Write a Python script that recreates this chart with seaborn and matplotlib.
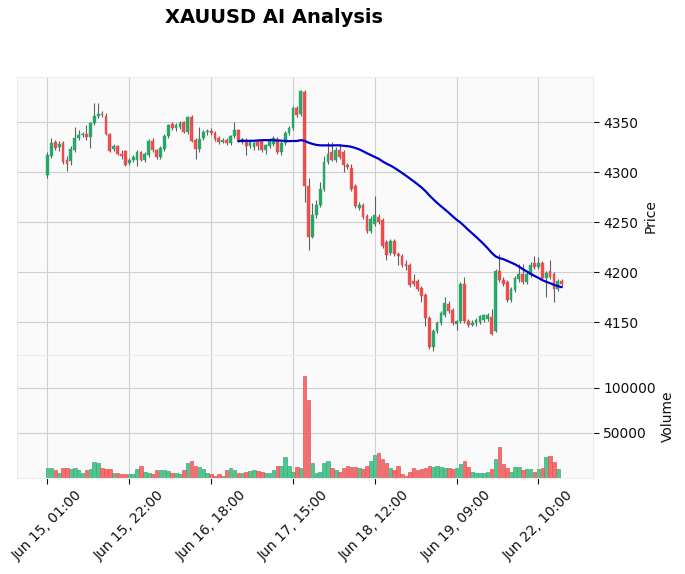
import pandas as pd
import numpy as np
import seaborn as sns
import matplotlib.pyplot as plt

# hourly candles
opens = [4297, 4316, 4330, 4325, 4329, 4312, 4311, 4322, 4334, 4337,
         4338, 4335, 4349, 4356, 4358, 4356, 4338, 4323, 4326, 4318,
         4321, 4309, 4312, 4312, 4320, 4312, 4317, 4331, 4322, 4315,
         4323, 4336, 4348, 4344, 4345, 4350, 4340, 4355, 4332, 4323,
         4334, 4340, 4341, 4339, 4334, 4330, 4332, 4329, 4336, 4342,
         4330, 4332, 4326, 4325, 4330, 4331, 4322, 4326, 4328, 4333,
         4320, 4329, 4339, 4344, 4364, 4358, 4380, 4286, 4235, 4257,
         4267, 4283, 4310, 4320, 4312, 4322, 4320, 4307, 4304, 4286,
         4264, 4267, 4256, 4241, 4248, 4255, 4252, 4230, 4219, 4231,
         4218, 4216, 4208, 4207, 4191, 4191, 4184, 4177, 4154, 4125,
         4141, 4149, 4157, 4168, 4162, 4148, 4151, 4188, 4151, 4147,
         4149, 4150, 4152, 4153, 4155, 4141, 4201, 4192, 4190, 4172,
         4182, 4193, 4198, 4190, 4197, 4209, 4205, 4209, 4194, 4201,
         4198, 4183, 4191]
highs = [4320, 4334, 4332, 4331, 4331, 4316, 4326, 4345, 4342, 4340,
         4347, 4350, 4369, 4369, 4361, 4359, 4339, 4328, 4327, 4322,
         4322, 4314, 4317, 4322, 4321, 4320, 4333, 4334, 4323, 4326,
         4338, 4348, 4350, 4349, 4351, 4351, 4356, 4357, 4334, 4345,
         4342, 4343, 4344, 4341, 4336, 4334, 4334, 4337, 4350, 4343,
         4334, 4334, 4331, 4331, 4332, 4333, 4328, 4334, 4336, 4335,
         4331, 4341, 4346, 4366, 4366, 4382, 4382, 4294, 4269, 4272,
         4290, 4316, 4330, 4330, 4325, 4328, 4322, 4309, 4308, 4288,
         4270, 4269, 4258, 4256, 4276, 4258, 4254, 4232, 4233, 4233,
         4220, 4218, 4212, 4209, 4198, 4193, 4186, 4179, 4156, 4143,
         4151, 4161, 4175, 4171, 4164, 4152, 4190, 4195, 4153, 4152,
         4154, 4157, 4158, 4159, 4163, 4203, 4218, 4195, 4192, 4185,
         4196, 4208, 4208, 4200, 4210, 4216, 4215, 4211, 4201, 4212,
         4200, 4193, 4193]
lows = [4294, 4314, 4322, 4321, 4308, 4301, 4307, 4320, 4332, 4335,
        4332, 4324, 4347, 4354, 4355, 4337, 4320, 4321, 4317, 4313,
        4306, 4307, 4310, 4306, 4311, 4310, 4315, 4320, 4313, 4313,
        4321, 4334, 4342, 4341, 4343, 4339, 4338, 4330, 4313, 4320,
        4332, 4337, 4337, 4331, 4328, 4329, 4327, 4327, 4334, 4330,
        4328, 4317, 4324, 4322, 4322, 4320, 4318, 4324, 4326, 4318,
        4317, 4327, 4337, 4342, 4355, 4356, 4270, 4222, 4234, 4254,
        4265, 4281, 4308, 4311, 4310, 4313, 4300, 4303, 4281, 4264,
        4262, 4253, 4239, 4239, 4246, 4248, 4224, 4212, 4217, 4216,
        4207, 4205, 4202, 4185, 4186, 4181, 4170, 4146, 4123, 4121,
        4139, 4147, 4155, 4159, 4147, 4142, 4149, 4149, 4145, 4146,
        4146, 4148, 4150, 4151, 4137, 4140, 4190, 4186, 4170, 4170,
        4180, 4190, 4188, 4188, 4195, 4203, 4203, 4192, 4175, 4193,
        4170, 4181, 4186]
closes = [4317, 4329, 4324, 4328, 4310, 4308, 4323, 4334, 4337, 4338,
          4335, 4349, 4356, 4358, 4357, 4338, 4321, 4326, 4318, 4316,
          4307, 4312, 4315, 4320, 4312, 4318, 4331, 4322, 4315, 4324,
          4336, 4347, 4344, 4347, 4349, 4340, 4355, 4331, 4323, 4333,
          4340, 4341, 4339, 4333, 4330, 4332, 4329, 4336, 4342, 4331,
          4333, 4326, 4330, 4329, 4326, 4322, 4327, 4332, 4334, 4320,
          4329, 4339, 4344, 4364, 4357, 4381, 4286, 4235, 4257, 4267,
          4283, 4310, 4318, 4312, 4322, 4315, 4307, 4305, 4283, 4266,
          4267, 4255, 4241, 4253, 4257, 4250, 4226, 4217, 4231, 4218,
          4216, 4207, 4206, 4187, 4188, 4183, 4176, 4154, 4125, 4141,
          4149, 4159, 4169, 4161, 4149, 4151, 4188, 4151, 4147, 4149,
          4152, 4156, 4157, 4157, 4138, 4201, 4192, 4188, 4172, 4183,
          4194, 4198, 4190, 4198, 4207, 4205, 4209, 4194, 4199, 4195,
          4183, 4191, 4188]
volumes = [11600, 11600, 8700, 5400, 10900, 11600, 9800, 10900, 8700, 6200,
           8700, 10500, 18100, 17000, 11600, 9800, 9800, 6200, 6200, 4300,
           4300, 4300, 4300, 9800, 14100, 7200, 6200, 5000, 8700, 8700,
           8700, 8000, 6200, 6200, 5000, 8700, 17000, 19600, 14100, 12300,
           9800, 6200, 5000, 2500, 4300, 2500, 8700, 11600, 8700, 6200,
           6200, 6900, 8000, 8700, 8000, 6900, 6200, 6200, 9000, 14100,
           14100, 23500, 14100, 7200, 12700, 11000, 113000, 85900, 17000, 6200,
           7200, 17000, 19600, 11600, 8700, 7200, 11600, 14100, 12300, 12700,
           11600, 10500, 14100, 19600, 26100, 27900, 21700, 17000, 10900, 8700,
           14100, 4300, 2500, 7200, 11600, 8700, 9800, 10900, 14100, 12700,
           14100, 12300, 11600, 11600, 9800, 10900, 15900, 18800, 12700, 7200,
           6200, 6200, 6200, 6500, 9800, 21700, 34400, 15900, 10900, 7200,
           12700, 12700, 9000, 9800, 9800, 7200, 9800, 10900, 23500, 25000,
           18100, 10500, 700]

tick_pos = [0, 21, 42, 63, 84, 105, 126]
tick_labels = ['Jun 15, 01:00', 'Jun 15, 22:00', 'Jun 16, 18:00', 'Jun 17, 15:00',
               'Jun 18, 12:00', 'Jun 19, 09:00', 'Jun 22, 10:00']
ma_window = 50

df = pd.DataFrame({'Open': opens, 'High': highs, 'Low': lows,
                   'Close': closes, 'Volume': volumes})
df['idx'] = np.arange(len(df))
df['dir'] = np.where(df['Close'] >= df['Open'], 'up', 'down')
df['MA'] = df['Close'].rolling(ma_window).mean()

sns.set_theme(style='whitegrid')
plt.rcParams['font.family'] = ['DejaVu Sans']

up_c, down_c = '#1fa868', '#ef4848'
vol_pal = {'up': '#4dc790', 'down': '#fd6b6c'}

W, H = 685, 574
fig = plt.figure(figsize=(W / 100, H / 100), dpi=100)
left, right = 16.7 / W, 593.3 / W
ax1 = fig.add_axes([left, 1 - 355 / H, right - left, (355 - 76.7) / H])
ax2 = fig.add_axes([left, 1 - 478.3 / H, right - left, (478.3 - 355) / H])

# candles
cols = np.where(df['dir'] == 'up', up_c, down_c)
body_lo = np.minimum(df['Open'], df['Close'])
body_h = np.maximum((df['Close'] - df['Open']).abs(), 0.8)
ax1.vlines(df['idx'], df['Low'], df['High'], color='#606060', lw=0.8, zorder=2)
ax1.bar(df['idx'], body_h, bottom=body_lo, width=0.72, color=cols,
        edgecolor=cols, linewidth=0.3, alpha=0.95, zorder=3)
sns.lineplot(data=df, x='idx', y='MA', ax=ax1, color='#0000cd', lw=1.6, zorder=4)

# volume
sns.barplot(data=df, x='idx', y='Volume', hue='dir', palette=vol_pal, ax=ax2,
            native_scale=True, width=0.9, saturation=1, legend=False, errorbar=None)
for bar in ax2.patches:
    fc = bar.get_facecolor()
    bar.set_edgecolor(tuple(c * 0.85 for c in fc[:3]))
    bar.set_linewidth(0.5)

for ax in (ax1, ax2):
    ax.set_facecolor('#fafafa')
    ax.grid(True, color='#d0d0d0', lw=0.8)
    ax.set_axisbelow(True)
    ax.yaxis.tick_right()
    ax.yaxis.set_label_position('right')
    ax.set_xlim(-7.9, 140.1)
    ax.set_xticks(tick_pos)
    for s in ax.spines.values():
        s.set_color('#ececec')
        s.set_linewidth(0.8)
    ax.tick_params(axis='y', which='both', right=True, left=False, direction='out',
                   length=4, width=0.8, color='#101010', labelcolor='#101010',
                   labelsize=10, pad=3)

ax1.set_ylim(4117.3, 4395.6)
ax1.set_yticks([4150, 4200, 4250, 4300, 4350])
ax1.set_ylabel('Price', fontsize=10, color='#101010')
ax1.set_xlabel('')
ax1.tick_params(axis='x', length=0, labelbottom=False)

ax2.set_ylim(0, 136000)
ax2.set_yticks([50000, 100000])
ax2.set_yticklabels(['50000', '100000'])
ax2.set_ylabel('Volume', fontsize=10, color='#101010')
ax2.set_xlabel('')
ax2.set_xticks(tick_pos)
ax2.set_xticklabels(tick_labels, rotation=45, ha='center', fontsize=10, color='#101010')
ax2.tick_params(axis='x', bottom=True, direction='out', length=4, width=0.8,
                color='#101010', pad=3)

fig.text(0.40, 0.969, 'XAUUSD AI Analysis', ha='center', va='center',
         fontsize=14, fontweight='bold', color='black')

fig.savefig('out.png', dpi=100)
